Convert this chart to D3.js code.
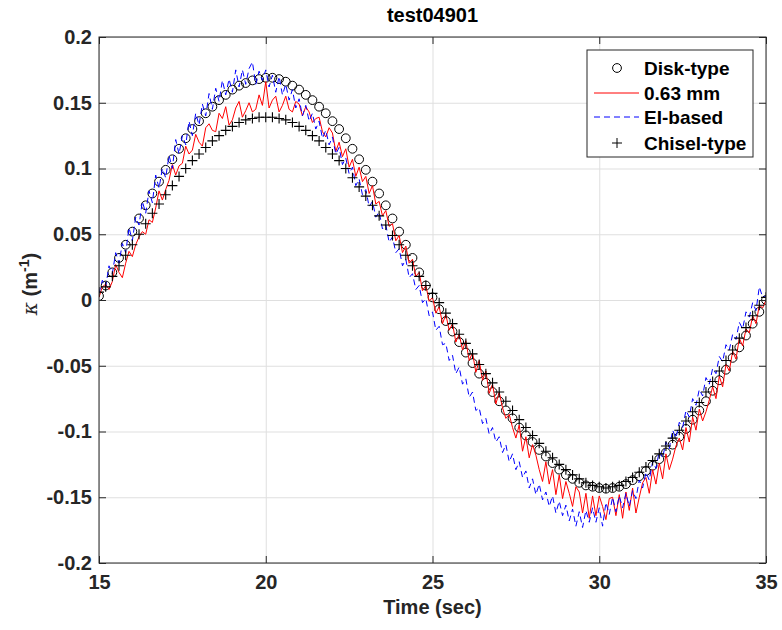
<!DOCTYPE html>
<html><head><meta charset="utf-8">
<script src="https://cdn.jsdelivr.net/npm/d3@7"></script>
<style>body{margin:0;background:#fff}</style>
</head><body><svg id="chart" width="782" height="630"></svg>
<script>
const chartTitle = "test04901";
const xLabel = "Time (sec)";
const xTicks = [15, 20, 25, 30, 35];
const yTicks = [-0.2, -0.15, -0.1, -0.05, 0, 0.05, 0.1, 0.15, 0.2];
const yTickLabels = ["-0.2", "-0.15", "-0.1", "-0.05", "0", "0.05", "0.1", "0.15", "0.2"];
const seriesNames = ["Disk-type", "0.63 mm", "EI-based", "Chisel-type"];

// sample times (s)
const markerTime = d3.range(101).map(i => 15 + i * 0.2);
const lineTime = d3.range(201).map(i => 15 + i * 0.1);

const diskType = [
 0.003, 0.011, 0.021, 0.032, 0.042, 0.052, 0.062, 0.072, 0.081, 0.090,
 0.099, 0.107, 0.115, 0.123, 0.130, 0.136, 0.142, 0.147, 0.152, 0.156,
 0.160, 0.163, 0.165, 0.167, 0.168, 0.169,
 0.169, 0.168, 0.166, 0.163, 0.160, 0.156, 0.152, 0.147, 0.142, 0.136,
 0.130, 0.123, 0.115, 0.107, 0.099, 0.090, 0.081, 0.072, 0.062, 0.052,
 0.042, 0.032, 0.021, 0.011, 0.002,
 -0.007, -0.016, -0.024, -0.032, -0.040, -0.048, -0.056, -0.063, -0.070, -0.077,
 -0.084, -0.090, -0.097, -0.103, -0.108, -0.114, -0.119, -0.124, -0.129, -0.133,
 -0.136, -0.139, -0.141, -0.142, -0.143, -0.1435, -0.143, -0.142, -0.140, -0.137,
 -0.134, -0.130, -0.126, -0.121, -0.116, -0.110, -0.104, -0.098, -0.091, -0.084,
 -0.077, -0.069, -0.061, -0.053, -0.044, -0.036, -0.027, -0.018, -0.009, 0.000
];

const chiselType = [
 0.006, 0.010, 0.018, 0.026, 0.034, 0.042, 0.050, 0.058, 0.066, 0.073,
 0.080, 0.087, 0.094, 0.100, 0.106, 0.111, 0.116, 0.121, 0.125, 0.129,
 0.132, 0.135, 0.137, 0.138, 0.139, 0.139, 0.139, 0.138, 0.137, 0.135,
 0.132, 0.129, 0.125, 0.121, 0.116, 0.111, 0.106, 0.100, 0.093, 0.086,
 0.079, 0.072, 0.064, 0.057, 0.049, 0.042, 0.034, 0.026, 0.018, 0.011,
 0.005,
 -0.002, -0.010, -0.018, -0.026, -0.033, -0.041, -0.049, -0.056, -0.063, -0.070,
 -0.077, -0.084, -0.091, -0.097, -0.103, -0.109, -0.115, -0.120, -0.125, -0.129,
 -0.133, -0.136, -0.139, -0.141, -0.142, -0.143, -0.142, -0.141, -0.138, -0.135,
 -0.131, -0.127, -0.122, -0.117, -0.111, -0.105, -0.099, -0.092, -0.085, -0.078,
 -0.070, -0.062, -0.054, -0.046, -0.038, -0.029, -0.021, -0.012, -0.004, 0.002
];

const mm063 = [
 0.002, 0.010, 0.012, 0.008, 0.014,  0.027, 0.021, 0.017, 0.028, 0.037,
 0.033, 0.042, 0.048, 0.052, 0.050,  0.061, 0.059, 0.070, 0.083, 0.076,
 0.084, 0.091, 0.103, 0.095, 0.102,  0.104, 0.117, 0.111, 0.114, 0.126,
 0.120, 0.117, 0.131, 0.134, 0.129,  0.128, 0.142, 0.138, 0.147, 0.133,
 0.137, 0.146, 0.151, 0.139, 0.144,  0.150, 0.143, 0.145, 0.156, 0.148,
 0.166, 0.146, 0.152, 0.155, 0.143,  0.148, 0.155, 0.145, 0.143, 0.151,
 0.149, 0.140, 0.147, 0.143, 0.135,  0.138, 0.139, 0.128, 0.124, 0.131,
 0.127, 0.113, 0.120, 0.109, 0.115,  0.101, 0.107, 0.094, 0.101, 0.090,
 0.094, 0.081, 0.087, 0.073, 0.075,  0.064, 0.068, 0.056, 0.058, 0.045,
 0.049, 0.036, 0.041, 0.028, 0.031,  0.018, 0.021, 0.007, 0.011, -0.001,
 0.002, -0.010, -0.005, -0.018, -0.011,  -0.023, -0.018, -0.032, -0.026, -0.038,
 -0.031, -0.046, -0.040, -0.055, -0.046,  -0.061, -0.054, -0.071, -0.064, -0.079,
 -0.070, -0.082, -0.090, -0.087, -0.097,  -0.105, -0.095, -0.115, -0.104, -0.120,
 -0.110, -0.118, -0.129, -0.138, -0.123,  -0.140, -0.129, -0.148, -0.133, -0.151,
 -0.138, -0.147, -0.157, -0.142, -0.146,  -0.162, -0.147, -0.166, -0.149, -0.164,
 -0.149, -0.157, -0.167, -0.151, -0.150,  -0.164, -0.148, -0.166, -0.146, -0.160,
 -0.143, -0.162, -0.150, -0.139, -0.135,  -0.147, -0.129, -0.140, -0.124, -0.136,
 -0.117, -0.129, -0.121, -0.111, -0.105,  -0.114, -0.097, -0.108, -0.089, -0.099,
 -0.083, -0.092, -0.085, -0.076, -0.066,  -0.075, -0.058, -0.066, -0.049, -0.054,
 -0.039, -0.045, -0.029, -0.035, -0.022,  -0.025, -0.012, -0.018, -0.004, -0.006,
 0.000
];

const eiBased = [
 0.005, 0.015, 0.010, 0.026, 0.020,  0.036, 0.028, 0.043, 0.036, 0.055,
 0.045, 0.063, 0.057, 0.075, 0.066,  0.083, 0.074, 0.095, 0.085, 0.100,
 0.093, 0.110, 0.100, 0.122, 0.111,  0.125, 0.118, 0.136, 0.125, 0.142,
 0.133, 0.149, 0.140, 0.157, 0.145,  0.161, 0.151, 0.167, 0.156, 0.168,
 0.158, 0.175, 0.162, 0.175, 0.164,  0.176, 0.181, 0.164, 0.174, 0.167,
 0.175, 0.162, 0.171, 0.158, 0.170,  0.156, 0.164, 0.152, 0.160, 0.146,
 0.153, 0.140, 0.148, 0.136, 0.142,  0.130, 0.136, 0.123, 0.129, 0.118,
 0.124, 0.111, 0.116, 0.103, 0.108,  0.096, 0.101, 0.087, 0.092, 0.080,
 0.084, 0.071, 0.075, 0.063, 0.067,  0.054, 0.057, 0.044, 0.048, 0.036,
 0.039, 0.026, 0.031, 0.017, 0.020,  0.008, 0.011, -0.002, 0.001, -0.012,
 -0.009, -0.023, -0.020, -0.034, -0.033,  -0.046, -0.042, -0.056, -0.051, -0.064,
 -0.060, -0.074, -0.070, -0.084, -0.082,  -0.094, -0.090, -0.102, -0.097, -0.108,
 -0.104, -0.116, -0.110, -0.123, -0.117,  -0.129, -0.123, -0.135, -0.130, -0.143,
 -0.136, -0.148, -0.140, -0.152, -0.146,  -0.157, -0.149, -0.162, -0.153, -0.164,
 -0.156, -0.168, -0.159, -0.172, -0.161,  -0.173, -0.160, -0.169, -0.158, -0.169,
 -0.158, -0.172, -0.154, -0.163, -0.150,  -0.161, -0.149, -0.158, -0.147, -0.157,
 -0.145, -0.151, -0.137, -0.143, -0.131,  -0.137, -0.123, -0.128, -0.115, -0.120,
 -0.108, -0.113, -0.099, -0.105, -0.093,  -0.097, -0.084, -0.089, -0.075, -0.080,
 -0.068, -0.073, -0.059, -0.064, -0.052,  -0.056, -0.043, -0.047, -0.034, -0.038,
 -0.026, -0.030, -0.017, -0.022, -0.009,  -0.013, -0.002, -0.008, 0.010, 0.002,
 0.003
];

// ---------- drawing ----------
const svg = d3.select("#chart");
const L = 99, R = 766, T = 37, B = 563;
const axisColor = "#262626";
const font = "'Liberation Sans', Arial, Helvetica, sans-serif";

const x = d3.scaleLinear().domain([15, 35]).range([L, R]);
const y = d3.scaleLinear().domain([-0.2, 0.2]).range([B, T]);

svg.append("rect").attr("x", 0).attr("y", 0).attr("width", 782).attr("height", 630).attr("fill", "#fff");

// grid
const grid = svg.append("g");
grid.append("g").attr("transform", `translate(0,${B})`)
  .call(d3.axisBottom(x).tickValues(xTicks).tickSize(-(B - T)).tickFormat(""))
  .call(g => g.select(".domain").remove())
  .selectAll("line").attr("stroke", "#dfdfdf").attr("stroke-width", 1);
grid.append("g").attr("transform", `translate(${L},0)`)
  .call(d3.axisLeft(y).tickValues(yTicks).tickSize(-(R - L)).tickFormat(""))
  .call(g => g.select(".domain").remove())
  .selectAll("line").attr("stroke", "#dfdfdf").attr("stroke-width", 1);

// clip
svg.append("clipPath").attr("id", "clip").append("rect")
  .attr("x", L).attr("y", T).attr("width", R - L).attr("height", B - T);
const plot = svg.append("g").attr("clip-path", "url(#clip)");

// Disk-type circles
plot.append("g").selectAll("circle").data(diskType).join("circle")
  .attr("cx", (d, i) => x(markerTime[i])).attr("cy", d => y(d)).attr("r", 4.4)
  .attr("fill", "none").attr("stroke", "#000").attr("stroke-width", 1);

const line = d3.line().x((d, i) => x(lineTime[i])).y(d => y(d));
plot.append("path").datum(mm063).attr("d", line)
  .attr("fill", "none").attr("stroke", "#ff0000").attr("stroke-width", 1);
plot.append("path").datum(eiBased).attr("d", line)
  .attr("fill", "none").attr("stroke", "#0000ff").attr("stroke-width", 1)
  .attr("stroke-dasharray", "6,4");

const plusPath = "M-5,0H5M0,-5V5";
plot.append("g").selectAll("path").data(chiselType).join("path")
  .attr("transform", (d, i) => `translate(${x(markerTime[i])},${y(d)})`)
  .attr("d", plusPath).attr("fill", "none").attr("stroke", "#000").attr("stroke-width", 1.1);

// axes
function styleAxis(g) {
  g.select(".domain").remove();
  g.selectAll("line").attr("stroke", axisColor);
  g.selectAll("text").attr("fill", axisColor).attr("font-family", font)
    .attr("font-size", 20).attr("font-weight", "bold");
}
svg.append("g").attr("transform", `translate(0,${B})`)
  .call(d3.axisBottom(x).tickValues(xTicks).tickSizeInner(-7).tickSizeOuter(0).tickPadding(12).tickFormat(d3.format("d")))
  .call(styleAxis);
svg.append("g").attr("transform", `translate(0,${T})`)
  .call(d3.axisTop(x).tickValues(xTicks).tickSizeInner(-7).tickSizeOuter(0).tickFormat(""))
  .call(styleAxis);
svg.append("g").attr("transform", `translate(${L},0)`)
  .call(d3.axisLeft(y).tickValues(yTicks).tickSizeInner(-7).tickSizeOuter(0).tickPadding(7)
    .tickFormat((d, i) => yTickLabels[i]))
  .call(styleAxis);
svg.append("g").attr("transform", `translate(${R},0)`)
  .call(d3.axisRight(y).tickValues(yTicks).tickSizeInner(-7).tickSizeOuter(0).tickFormat(""))
  .call(styleAxis);

svg.append("rect").attr("x", L).attr("y", T).attr("width", R - L).attr("height", B - T)
  .attr("fill", "none").attr("stroke", axisColor).attr("stroke-width", 1);

// title & labels
svg.append("text").attr("x", (L + R) / 2).attr("y", 22).attr("text-anchor", "middle")
  .attr("font-family", font).attr("font-size", 20).attr("font-weight", "bold").attr("fill", "#000")
  .text(chartTitle);
svg.append("text").attr("x", (L + R) / 2).attr("y", 614).attr("text-anchor", "middle")
  .attr("font-family", font).attr("font-size", 20).attr("font-weight", "bold").attr("fill", axisColor)
  .text(xLabel);
const yl = svg.append("text").attr("transform", "translate(37,284) rotate(-90)").attr("text-anchor", "middle")
  .attr("font-family", font).attr("font-size", 20).attr("font-weight", "bold").attr("fill", axisColor);
yl.append("tspan").attr("font-family", "'DejaVu Serif', 'Liberation Serif', serif").attr("font-style", "italic").attr("font-weight", "normal").text("κ");
yl.append("tspan").text(" (m");
yl.append("tspan").attr("font-size", 14).attr("dy", -8).text("-1");
yl.append("tspan").attr("dy", 8).text(")");

// legend
const lg = svg.append("g");
lg.append("rect").attr("x", 587).attr("y", 50).attr("width", 166).attr("height", 107)
  .attr("fill", "#fff").attr("stroke", axisColor).attr("stroke-width", 1);
const rows = [68, 93, 117, 143];
lg.append("circle").attr("cx", 617).attr("cy", rows[0]).attr("r", 4.4).attr("fill", "none").attr("stroke", "#000");
lg.append("line").attr("x1", 594).attr("x2", 639).attr("y1", rows[1]).attr("y2", rows[1]).attr("stroke", "#ff0000");
lg.append("line").attr("x1", 594).attr("x2", 639).attr("y1", rows[2]).attr("y2", rows[2]).attr("stroke", "#0000ff").attr("stroke-dasharray", "6,4");
lg.append("path").attr("transform", `translate(617,${rows[3]})`).attr("d", plusPath).attr("stroke", "#000").attr("fill", "none");
lg.selectAll("text.lt").data(seriesNames).join("text").attr("class", "lt")
  .attr("x", 644).attr("y", (d, i) => rows[i]).attr("dy", "0.35em")
  .attr("font-family", font).attr("font-size", 19).attr("font-weight", "bold").attr("fill", "#000")
  .text(d => d);
</script></body></html>
